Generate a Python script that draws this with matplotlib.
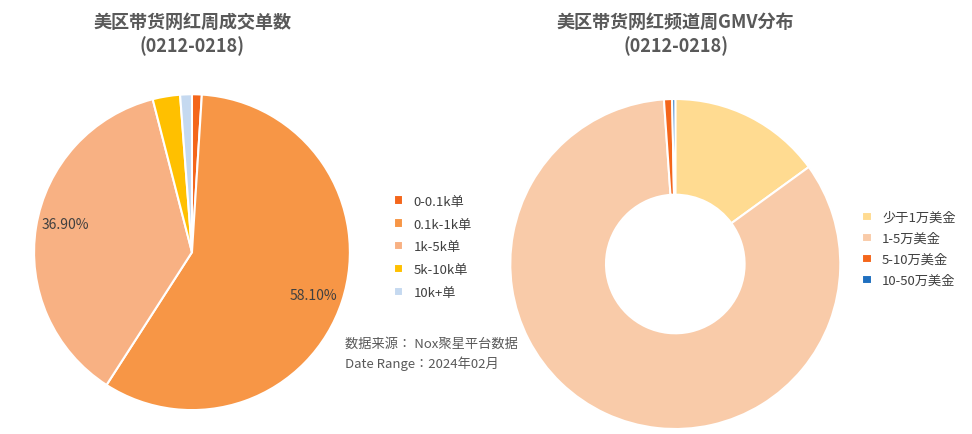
import matplotlib.pyplot as plt
from matplotlib import font_manager

# 查找可用的中文无衬线字体
cjk_name = None
best = -1
for f in font_manager.findSystemFonts():
    if 'cjk' in f.lower():
        try:
            font_manager.fontManager.addfont(f)
            name = font_manager.FontProperties(fname=f).get_name()
        except Exception:
            continue
        score = ('Sans' in name) * 2 + ('SC' in name)
        if score > best:
            best, cjk_name = score, name
plt.rcParams['font.family'] = 'sans-serif'
plt.rcParams['font.sans-serif'] = [cjk_name or 'Noto Sans CJK SC', 'DejaVu Sans']

# 左图：周成交单数
left_labels = ['0-0.1k单', '0.1k-1k单', '1k-5k单', '5k-10k单', '10k+单']
left_values = [1.0, 58.1, 36.9, 2.8, 1.2]
left_colors = ['#F4661B', '#F79646', '#F8B183', '#FFC000', '#C5D9F0']

# 右图：周GMV分布
right_labels = ['少于1万美金', '1-5万美金', '5-10万美金', '10-50万美金']
right_values = [15.0, 83.9, 0.8, 0.3]
right_colors = ['#FFDB91', '#F9CBA9', '#F4661B', '#1F6FBF']

fig = plt.figure(figsize=(9.72, 4.35), dpi=100)

ax1 = fig.add_axes([0.035, 0.055, 0.325, 0.726])
wedges, _ = ax1.pie(left_values, colors=left_colors, startangle=90, counterclock=False,
                    wedgeprops=dict(edgecolor='white', linewidth=1.5))
ax1.set_xlim(-1, 1)
ax1.set_ylim(-1, 1)
ax1.text(-0.8, 0.18, '36.90%', ha='center', va='center', fontsize=10, color='#404040')
ax1.text(0.77, -0.27, '58.10%', ha='center', va='center', fontsize=10, color='#404040')
fig.text(0.198, 0.92, '美区带货网红周成交单数\n(0212-0218)', ha='center', va='center',
         fontsize=13, fontweight='bold', color='#595959', linespacing=1.3)
fig.legend(wedges, left_labels, loc='center left', bbox_to_anchor=(0.393, 0.43),
           frameon=False, fontsize=9.5, handlelength=0.7, handleheight=0.7,
           labelcolor='#404040', labelspacing=0.75)
fig.text(0.355, 0.185, '数据来源： Nox聚星平台数据\nDate Range：2024年02月', ha='left', va='center',
         fontsize=9.5, color='#595959', linespacing=1.5)

ax2 = fig.add_axes([0.525, 0.0115, 0.3395, 0.7586])
w2, _ = ax2.pie(right_values, colors=right_colors, startangle=90, counterclock=False,
                wedgeprops=dict(width=0.58, edgecolor='white', linewidth=1.5))
ax2.set_xlim(-1, 1)
ax2.set_ylim(-1, 1)
fig.text(0.695, 0.92, '美区带货网红频道周GMV分布\n(0212-0218)', ha='center', va='center',
         fontsize=13, fontweight='bold', color='#595959', linespacing=1.3)
fig.legend(w2, right_labels, loc='center left', bbox_to_anchor=(0.875, 0.425),
           frameon=False, fontsize=9.5, handlelength=0.7, handleheight=0.7,
           labelcolor='#404040', labelspacing=0.6)

fig.savefig('out.png', dpi=100, facecolor='white')
